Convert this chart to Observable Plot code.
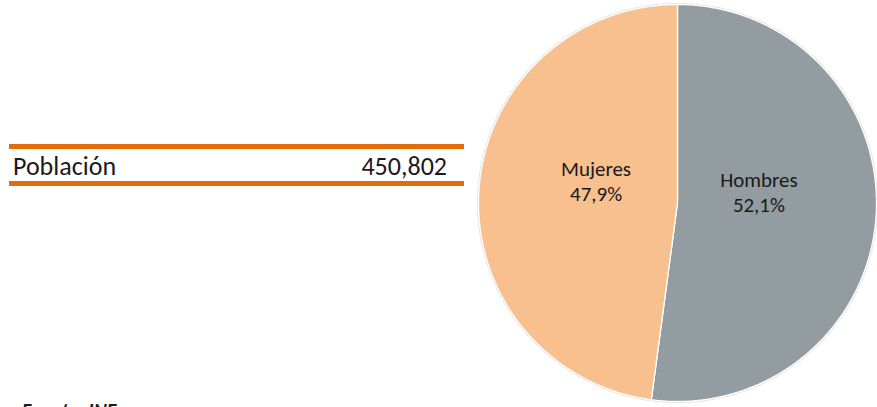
<!DOCTYPE html>
<html>
<head>
<meta charset="utf-8">
<script src="https://cdn.jsdelivr.net/npm/d3@7"></script>
<script src="https://cdn.jsdelivr.net/npm/@observablehq/plot@0.6"></script>
<style>
  html, body { margin: 0; padding: 0; background: #fff; overflow: hidden; }
  body { width: 877px; height: 407px; position: relative; font-family: Carlito, Lato, "Liberation Sans", sans-serif; color: #1a1a1a; }
  #tabla { position: absolute; left: 9px; top: 144px; width: 455px; }
  .linea { height: 5px; background: #e36c0a; }
  .fila { height: 32px; position: relative; font-size: 26px; }
  .fila span { position: absolute; top: 2px; line-height: 30px; }
  #fuente { position: absolute; left: 22px; top: 398px; font-size: 20px; font-weight: bold; font-style: italic; }
  #pie { position: absolute; left: 477px; top: 0; }
</style>
</head>
<body>
<div id="tabla"></div>
<div id="fuente"></div>
<div id="pie"></div>
<script>
const categorias = ["Hombres", "Mujeres"];
const porcentajes = [52.1, 47.9];
const colores = ["#929ca1", "#f8c08f"];
const filaEtiquetas = ["Población"];
const filaValores = [450802];
const fuente = "Fuente: INE";

// table
const tabla = document.getElementById("tabla");
tabla.innerHTML = '<div class="linea"></div>' +
  filaEtiquetas.map((e, i) =>
    `<div class="fila"><span style="left:4px">${e}</span><span style="right:17px">${d3.format(",")(filaValores[i])}</span></div>`
  ).join("") + '<div class="linea"></div>';
document.getElementById("fuente").textContent = fuente;

// pie geometry from data
const total = d3.sum(porcentajes);
const puntos = [];
const etiquetas = [];
let acumulado = 0;
categorias.forEach((c, i) => {
  const a0 = acumulado / total * 2 * Math.PI;
  const a1 = (acumulado + porcentajes[i]) / total * 2 * Math.PI;
  acumulado += porcentajes[i];
  puntos.push({cat: c, x: 0, y: 0});
  const n = Math.max(2, Math.ceil((a1 - a0) / (Math.PI / 360)));
  for (let k = 0; k <= n; k++) {
    const a = a0 + (a1 - a0) * k / n;
    puntos.push({cat: c, x: Math.sin(a), y: Math.cos(a)});
  }
  puntos.push({cat: c, x: 0, y: 0});
  const am = (a0 + a1) / 2;
  etiquetas.push({cat: c, x: 0.41 * Math.sin(am), y: 0.41 * Math.cos(am),
    texto: `${c}\n${porcentajes[i].toFixed(1).replace(".", ",")}%`});
});

const circulo = d3.range(0, 361, 1).map(d => ({x: Math.sin(d * Math.PI / 180), y: Math.cos(d * Math.PI / 180)}));

const chart = Plot.plot({
  width: 401,
  height: 407,
  marginLeft: 1,
  marginRight: 1,
  marginTop: 4,
  marginBottom: 5,
  x: {domain: [-1, 1], axis: null},
  y: {domain: [-1, 1], axis: null},
  color: {domain: categorias, range: colores},
  style: {background: "transparent", overflow: "visible", fontFamily: "Carlito, Lato, 'Liberation Sans', sans-serif"},
  marks: [
    Plot.line(circulo, {x: "x", y: "y", stroke: "#d0d0d0", strokeWidth: 3, strokeOpacity: 0.6}),
    Plot.line(puntos, {x: "x", y: "y", z: "cat", fill: "cat", stroke: "white", strokeWidth: 1.3, strokeLinejoin: "round"}),
    Plot.text(etiquetas, {x: "x", y: "y", text: "texto", dy: -17, fontSize: 21, lineHeight: 1.2, fill: "#1a1a1a"})
  ]
});
document.getElementById("pie").appendChild(chart);
</script>
</body>
</html>
